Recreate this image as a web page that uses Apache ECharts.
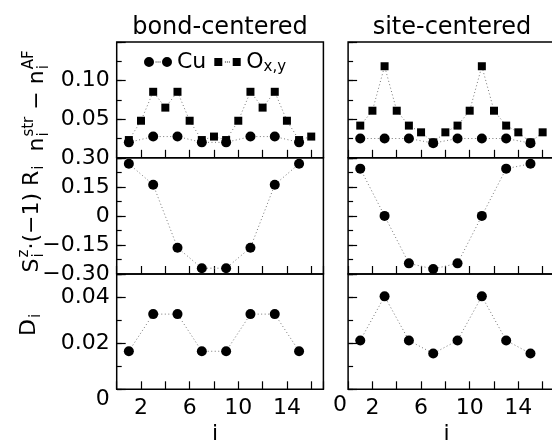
<!DOCTYPE html>
<html>
<head>
<meta charset="utf-8">
<script src="https://cdn.jsdelivr.net/npm/echarts@6/dist/echarts.min.js"></script>
<style>
  html, body { margin: 0; padding: 0; background: #fff; }
  #chart { width: 552px; height: 443px; }
</style>
</head>
<body>
<div id="chart"></div>
<script>
// Lattice index along the stripe: Cu on odd sites, O on every site
const cuSites = [1, 3, 5, 7, 9, 11, 13, 15];
const oSites = [1, 2, 3, 4, 5, 6, 7, 8, 9, 10, 11, 12, 13, 14, 15, 16];

// Hole density relative to the antiferromagnet, n_i^str - n_i^AF
const bondCuDensity = [0.020, 0.0275, 0.0275, 0.020, 0.020, 0.0275, 0.0275, 0.020];
const bondODensity = [0.023, 0.048, 0.0855, 0.065, 0.0855, 0.048, 0.023, 0.0275,
                      0.023, 0.048, 0.0855, 0.065, 0.0855, 0.048, 0.023, 0.0275];
const siteCuDensity = [0.025, 0.025, 0.025, 0.019, 0.025, 0.025, 0.025, 0.019];
const siteODensity = [0.0417, 0.061, 0.1186, 0.061, 0.0417, 0.033, 0.020, 0.033,
                      0.0417, 0.061, 0.1186, 0.061, 0.0417, 0.033, 0.020, 0.033];

// Staggered magnetisation S_i^z (-1)^{R_i}
const bondStaggered = [0.269, 0.161, -0.164, -0.270, -0.270, -0.164, 0.161, 0.269];
const siteStaggered = [0.244, 0.0, -0.245, -0.274, -0.245, 0.0, 0.244, 0.269];

// Pairing amplitude D_i
const bondPairing = [0.0165, 0.0326, 0.0326, 0.0165, 0.0165, 0.0326, 0.0326, 0.0165];
const sitePairing = [0.0212, 0.0403, 0.0212, 0.0155, 0.0212, 0.0403, 0.0212, 0.0155];

// Text
const panelTitles = ['bond-centered', 'site-centered'];
const xTickLabels = [2, 6, 10, 14];
const densityTickLabels = [0.05, 0.10];
const spinTickLabels = [0.30, 0.15, 0, -0.15, -0.30];
const pairingTickLabels = [0.04, 0.02, 0];
const legendNames = ['Cu', 'O'];

const FONT = 'DejaVu Sans';
const LABEL_SIZE = 22;

const colLeft = [116.7, 348.1];
const colWidth = 206.7;
const rows = [
  { top: 42, height: 115.8 },
  { top: 157.8, height: 116.2 },
  { top: 274, height: 115.3 }
];

const measureCtx = document.createElement('canvas').getContext('2d');
function textWidth(s, size) {
  measureCtx.font = size + 'px "' + FONT + '"';
  return measureCtx.measureText(s).width;
}

function inList(list, v) {
  return list.some(t => Math.abs(t - v) < 1e-9);
}
function fmtTick(v) {
  if (Math.abs(v) < 1e-9) return '0';
  return (v < 0 ? '\u2212' : '') + Math.abs(v).toFixed(2);
}

const grids = [], xAxes = [], yAxes = [], series = [];

function addPanel(row, col, yCfg) {
  const gi = grids.length;
  grids.push({
    left: colLeft[col], top: rows[row].top, width: colWidth, height: rows[row].height,
    show: true, borderColor: '#000', borderWidth: 1.5, backgroundColor: 'transparent',
    containLabel: false, outerBoundsMode: 'none'
  });
  const bottomRow = row === 2;
  xAxes.push({
    gridIndex: gi, type: 'value', min: 0, max: 17, interval: 2, position: 'bottom',
    axisLine: { show: false, onZero: false }, splitLine: { show: false },
    axisTick: { inside: true, length: 8, lineStyle: { color: '#000', width: 1.2 } },
    axisLabel: bottomRow ? {
      show: true, margin: 8, color: '#000', fontSize: LABEL_SIZE, fontFamily: FONT,
      showMinLabel: true, showMaxLabel: true,
      formatter: v => {
        if (col === 1 && Math.abs(v) < 1e-9) return '{z|0}';
        return inList(xTickLabels, v) ? String(v) : '';
      },
      rich: { z: { fontSize: LABEL_SIZE, fontFamily: FONT, color: '#000', padding: [0, 16, 0, 0], lineHeight: 16 } }
    } : { show: false },
    name: bottomRow ? 'i' : '',
    nameLocation: 'middle', nameGap: 34,
    nameTextStyle: { fontSize: LABEL_SIZE, fontFamily: FONT, color: '#000', padding: [0, 10, 0, 0] }
  });
  const yMajor = yAxes.length;
  yAxes.push({
    gridIndex: gi, type: 'value', position: 'left',
    min: yCfg.min, max: yCfg.max, interval: yCfg.major,
    axisLine: { show: false, onZero: false }, splitLine: { show: false },
    axisTick: { inside: true, length: 9, lineStyle: { color: '#000', width: 1.2 } },
    axisLabel: col === 0 ? {
      show: true, margin: 7, color: '#000', fontSize: LABEL_SIZE, fontFamily: FONT,
      showMinLabel: true, showMaxLabel: true,
      formatter: v => {
        if (!inList(yCfg.labels, v)) return '';
        if (yCfg.dropZero && Math.abs(v) < 1e-9) return '{z|0}';
        return fmtTick(v);
      },
      rich: { z: { fontSize: LABEL_SIZE, fontFamily: FONT, color: '#000', padding: [20, 0, 0, 0] } }
    } : { show: false }
  });
  yAxes.push({
    gridIndex: gi, type: 'value', position: 'left',
    min: yCfg.min, max: yCfg.max, interval: yCfg.minor,
    axisLine: { show: false, onZero: false }, splitLine: { show: false },
    axisTick: { inside: true, length: 5, lineStyle: { color: '#000', width: 1.2 } },
    axisLabel: { show: false }
  });
  return { xAxisIndex: gi, yAxisIndex: yMajor };
}

const dotted = { color: '#777', width: 1, type: [1, 2.5] };
function lineSeries(name, axes, xs, ys, symbol, size, z) {
  return {
    name, type: 'line', xAxisIndex: axes.xAxisIndex, yAxisIndex: axes.yAxisIndex,
    data: xs.map((x, k) => [x, ys[k]]),
    symbol, symbolSize: size, showSymbol: true, z,
    lineStyle: dotted,
    itemStyle: { color: '#000', borderWidth: 0 },
    emphasis: { disabled: true },
    animation: false
  };
}

const densityAxis = { min: 0, max: 0.15, major: 0.05, minor: 0.025, labels: densityTickLabels };
const spinAxis = { min: -0.30, max: 0.30, major: 0.15, minor: 0.075, labels: spinTickLabels };
const pairingAxis = { min: 0, max: 0.05, major: 0.02, minor: 0.01, labels: pairingTickLabels, dropZero: true };

// row 0: hole densities
let p = addPanel(0, 0, densityAxis);
series.push(lineSeries('O', p, oSites, bondODensity, 'rect', 8, 2));
series.push(lineSeries('Cu', p, cuSites, bondCuDensity, 'circle', 10, 3));
p = addPanel(0, 1, densityAxis);
series.push(lineSeries('O', p, oSites, siteODensity, 'rect', 8, 2));
series.push(lineSeries('Cu', p, cuSites, siteCuDensity, 'circle', 10, 3));
// row 1: staggered spin
p = addPanel(1, 0, spinAxis);
series.push(lineSeries('spin-bond', p, cuSites, bondStaggered, 'circle', 10, 3));
p = addPanel(1, 1, spinAxis);
series.push(lineSeries('spin-site', p, cuSites, siteStaggered, 'circle', 10, 3));
// row 2: pairing
p = addPanel(2, 0, pairingAxis);
series.push(lineSeries('pair-bond', p, cuSites, bondPairing, 'circle', 10, 3));
p = addPanel(2, 1, pairingAxis);
series.push(lineSeries('pair-site', p, cuSites, sitePairing, 'circle', 10, 3));

// Legend icons: two markers joined by a dotted segment
const cuIcon = 'path://M0,0M28,10M0,5A5,5 0 1,1 10,5A5,5 0 1,1 0,5Z' +
  'M18,5A5,5 0 1,1 28,5A5,5 0 1,1 18,5Z' +
  'M11.6,4.6h0.9v0.9h-0.9Z M13.6,4.6h0.9v0.9h-0.9Z M15.6,4.6h0.9v0.9h-0.9Z';
const oIcon = 'path://M0,0M28,10M1,1h8v8h-8Z M19.4,1h8v8h-8Z' +
  'M11.6,4.6h0.9v0.9h-0.9Z M13.6,4.6h0.9v0.9h-0.9Z M15.6,4.6h0.9v0.9h-0.9Z';

// Rotated axis titles with sub/superscripts
const MAIN = 22, SMALL = 15, SUP_DY = -8, SUB_DY = 7;
function txt(s, x, y, size) {
  return {
    type: 'text', x, y,
    style: {
      text: s, font: size + 'px "' + FONT + '"', fill: '#000',
      textAlign: 'left', align: 'left', textVerticalAlign: 'middle', verticalAlign: 'middle'
    }
  };
}
function scriptedTitle(cx, cy, tokens) {
  const kids = [];
  let x = 0;
  tokens.forEach(tk => {
    if (tk.base) { kids.push(txt(tk.base, x, 0, MAIN)); x += textWidth(tk.base, MAIN); }
    let adv = 0;
    if (tk.sup) { kids.push(txt(tk.sup, x + 1, SUP_DY, SMALL)); adv = Math.max(adv, textWidth(tk.sup, SMALL) + 1); }
    if (tk.sub) { kids.push(txt(tk.sub, x + 1, SUB_DY, SMALL)); adv = Math.max(adv, textWidth(tk.sub, SMALL) + 1); }
    x += adv;
  });
  kids.forEach(k => { k.x -= x / 2; });
  return { type: 'group', x: cx, y: cy, rotation: Math.PI / 2, children: kids };
}

const chart = echarts.init(document.getElementById('chart'), null, { renderer: 'canvas' });
chart.setOption({
  animation: false,
  backgroundColor: '#fff',
  textStyle: { fontFamily: FONT },
  title: [
    { text: panelTitles[0], left: 215, top: 11, textAlign: 'center',
      textStyle: { fontSize: 24, fontWeight: 'normal', color: '#000', fontFamily: FONT } },
    { text: panelTitles[1], left: 447, top: 11, textAlign: 'center',
      textStyle: { fontSize: 24, fontWeight: 'normal', color: '#000', fontFamily: FONT } }
  ],
  legend: {
    data: [{ name: legendNames[0], icon: cuIcon }, { name: legendNames[1], icon: oIcon }],
    left: 144, top: 51, padding: 0, itemGap: 7, itemWidth: 28, itemHeight: 10,
    selectedMode: false,
    itemStyle: { color: '#000', borderWidth: 0 },
    formatter: name => name === 'O' ? '{o|O}{s|x,y}' : '{o|' + name + '}',
    textStyle: {
      color: '#000', fontSize: 22, fontFamily: FONT,
      rich: {
        o: { fontSize: 22, lineHeight: 26, fontFamily: FONT, color: '#000' },
        s: { fontSize: 15, lineHeight: 15, verticalAlign: 'bottom', fontFamily: FONT, color: '#000' }
      }
    }
  },
  grid: grids,
  xAxis: xAxes,
  yAxis: yAxes,
  series,
  graphic: {
    elements: [
      scriptedTitle(37, 101, [{ base: 'n', sup: 'str', sub: 'i' }, { base: ' \u2212 ' }, { base: 'n', sup: 'AF', sub: 'i' }]),
      scriptedTitle(32, 219, [{ base: 'S', sup: 'z', sub: 'i' }, { base: '\u00b7(\u22121) R', sub: 'i' }]),
      scriptedTitle(29, 325, [{ base: 'D', sub: 'i' }])
    ]
  }
});
</script>
</body>
</html>
